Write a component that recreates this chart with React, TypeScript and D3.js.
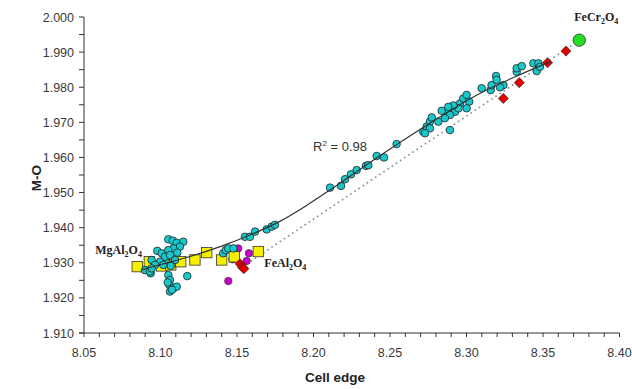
import React from "react";
import * as d3 from "d3";

// ---- data ----
const xTicks = [8.05, 8.1, 8.15, 8.2, 8.25, 8.3, 8.35, 8.4];
const yTicks = [1.91, 1.92, 1.93, 1.94, 1.95, 1.96, 1.97, 1.98, 1.99, 2.0];

const cyanPoints: [number, number][] = [
  [8.1051, 1.9367], [8.108, 1.9363], [8.1106, 1.9357], [8.1149, 1.936], [8.1127, 1.9346],
  [8.0979, 1.9334], [8.1008, 1.9327], [8.1084, 1.9341], [8.1051, 1.9336], [8.111, 1.9329],
  [8.1029, 1.9317], [8.1062, 1.9322], [8.0997, 1.9303], [8.1095, 1.9308], [8.1044, 1.9298],
  [8.0942, 1.9308], [8.0899, 1.9279], [8.0936, 1.927], [8.1067, 1.9291], [8.1051, 1.9265],
  [8.1062, 1.9251], [8.1058, 1.9237], [8.1084, 1.9227], [8.1106, 1.9232], [8.1062, 1.9218],
  [8.1175, 1.9262], [8.0964, 1.9294], [8.1018, 1.9294], [8.0931, 1.9275], [8.0942, 1.9284],
  [8.1047, 1.9244], [8.1075, 1.9223],
  [8.141, 1.9327], [8.1426, 1.9336], [8.1443, 1.9341], [8.1476, 1.9341], [8.1552, 1.9374],
  [8.1585, 1.9374], [8.1618, 1.9389], [8.1694, 1.9395], [8.1727, 1.9403], [8.1748, 1.9408],
  [8.2108, 1.9514], [8.218, 1.9519], [8.2206, 1.9538], [8.2245, 1.9552], [8.2282, 1.9564],
  [8.2343, 1.9576], [8.2358, 1.9578], [8.2413, 1.9604], [8.2461, 1.96], [8.2543, 1.9638],
  [8.2718, 1.9673], [8.274, 1.9688], [8.2761, 1.9702], [8.2773, 1.9714], [8.2816, 1.9702],
  [8.2761, 1.9683], [8.2729, 1.9669], [8.2892, 1.9678], [8.287, 1.9726], [8.2903, 1.974],
  [8.2925, 1.973], [8.2958, 1.9754], [8.2979, 1.9768], [8.3001, 1.9778], [8.3018, 1.9759],
  [8.3001, 1.974], [8.2947, 1.974], [8.2892, 1.9721], [8.2838, 1.9733], [8.2914, 1.9748],
  [8.2881, 1.9744], [8.2859, 1.9712],
  [8.3099, 1.9797], [8.3158, 1.9792], [8.3164, 1.9806], [8.3193, 1.9832], [8.3197, 1.9821],
  [8.3241, 1.9806], [8.3219, 1.98], [8.3328, 1.9844], [8.3328, 1.9854], [8.3361, 1.986],
  [8.3437, 1.9868], [8.347, 1.9868], [8.3459, 1.9846], [8.348, 1.9858],
];

const yellowSquares: [number, number][] = [
  [8.0848, 1.9289], [8.0927, 1.9303], [8.1008, 1.9291], [8.1067, 1.9294], [8.1132, 1.9303],
  [8.1225, 1.9308], [8.1302, 1.9329], [8.14, 1.9308], [8.1482, 1.9317], [8.1639, 1.9332],
];

const magentaPoints: [number, number][] = [
  [8.1443, 1.9248], [8.1508, 1.9341], [8.1563, 1.9305], [8.1578, 1.9327], [8.147, 1.931],
];

const redDiamonds: [number, number][] = [
  [8.152, 1.9297], [8.1535, 1.9288], [8.1545, 1.9283],
  [8.3241, 1.9768], [8.3345, 1.9813], [8.353, 1.987], [8.365, 1.9903],
];

const feCr2O4: [number, number] = [8.3737, 1.9934];
const feAl2O4: [number, number] = [8.1535, 1.9288];
const mgAl2O4: [number, number] = [8.0848, 1.9289];

const trendPoints: [number, number][] = [
  [8.088, 1.928], [8.1, 1.9295], [8.113, 1.931], [8.139, 1.9346], [8.16, 1.9382],
  [8.178, 1.9418], [8.195, 1.9462], [8.21, 1.9505], [8.241, 1.9598], [8.274, 1.9692],
  [8.309, 1.9783], [8.335, 1.9836], [8.355, 1.9873],
];
const rSquared = "0.98";

const W = 632;
const H = 389;

export default function App() {
  const x = d3.scaleLinear().domain([8.05, 8.4]).range([84, 619.5]);
  const y = d3.scaleLinear().domain([1.91, 2.0]).range([333, 17]);
  const minorX = d3.range(0, 36).map((i) => 8.05 + i * 0.01);
  const minorY = d3.range(0, 19).map((i) => 1.91 + i * 0.005);
  const trend = d3
    .line<[number, number]>()
    .x((d) => x(d[0]))
    .y((d) => y(d[1]))
    .curve(d3.curveMonotoneX)(trendPoints) as string;
  const dotted = d3
    .line<[number, number]>()
    .x((d) => x(d[0]))
    .y((d) => y(d[1]))([feAl2O4, feCr2O4]) as string;
  const sans = "'Liberation Sans', Arial, sans-serif";
  const serif = "'Liberation Serif', 'Times New Roman', serif";
  const axisColor = "#333";

  return (
    <svg
      width={W}
      height={H}
      style={{ position: "absolute", left: 0, top: 0, background: "#fff" }}
    >
      <rect width={W} height={H} fill="#fff" />
      {/* axes */}
      <line x1={x(8.05)} x2={x(8.05)} y1={y(1.91)} y2={y(2.0)} stroke={axisColor} strokeWidth={1} />
      <line x1={x(8.05) - 5} x2={x(8.4)} y1={y(1.91)} y2={y(1.91)} stroke={axisColor} strokeWidth={1} />
      {minorX.map((v, i) => (
        <line key={"mx" + i} x1={x(v)} x2={x(v)} y1={y(1.91)} y2={y(1.91) + 4} stroke={axisColor} strokeWidth={1} />
      ))}
      {minorY.map((v, i) => (
        <line key={"my" + i} x1={x(8.05) - 5} x2={x(8.05)} y1={y(v)} y2={y(v)} stroke={axisColor} strokeWidth={1} />
      ))}
      {xTicks.map((v) => (
        <text key={"xt" + v} x={x(v)} y={357} textAnchor="middle" fontFamily={sans} fontSize={12.5} fill="#3a3a3a">
          {v.toFixed(2)}
        </text>
      ))}
      {yTicks.map((v) => (
        <text key={"yt" + v} x={74} y={y(v) + 4.5} textAnchor="end" fontFamily={sans} fontSize={12.5} fill="#3a3a3a">
          {v.toFixed(3)}
        </text>
      ))}
      <text x={335} y={382} textAnchor="middle" fontFamily={sans} fontSize={13.5} fontWeight="bold" fill="#222">
        Cell edge
      </text>
      <text
        transform={`translate(41,178) rotate(-90)`}
        textAnchor="middle"
        fontFamily={sans}
        fontSize={13.5}
        fontWeight="bold"
        fill="#222"
      >
        M-O
      </text>

      {/* mixing line */}
      <path d={dotted} fill="none" stroke="#888" strokeWidth={1.6} strokeDasharray="1.6,3.4" />

      {/* markers */}
      {magentaPoints.map((d, i) => (
        <circle key={"m" + i} cx={x(d[0])} cy={y(d[1])} r={3.7} fill="#cc00cc" stroke="#333" strokeWidth={0.7} />
      ))}
      {yellowSquares.map((d, i) => (
        <rect key={"s" + i} x={x(d[0]) - 5.2} y={y(d[1]) - 5.2} width={10.4} height={10.4} fill="#f5f000" stroke="#333" strokeWidth={0.8} />
      ))}
      {cyanPoints.map((d, i) => (
        <circle key={"c" + i} cx={x(d[0])} cy={y(d[1])} r={3.8} fill="#17c9cc" stroke="#222" strokeWidth={0.8} />
      ))}
      {redDiamonds.map((d, i) => (
        <rect
          key={"r" + i}
          x={-3.6}
          y={-3.6}
          width={7.2}
          height={7.2}
          transform={`translate(${x(d[0])},${y(d[1])}) rotate(45)`}
          fill="#e00000"
          stroke="#333"
          strokeWidth={0.6}
        />
      ))}
      <circle cx={x(feCr2O4[0])} cy={y(feCr2O4[1])} r={6.2} fill="#22dd22" stroke="#333" strokeWidth={0.8} />

      {/* trend line */}
      <path d={trend} fill="none" stroke="#333" strokeWidth={1.2} />

      {/* annotations */}
      <text x={313} y={151} fontFamily={sans} fontSize={13} fill="#333">
        R<tspan fontSize={8} dy={-5}>2</tspan>
        <tspan dy={5}> = {rSquared}</tspan>
      </text>
      <text x={x(feCr2O4[0]) - 5} y={y(feCr2O4[1]) - 19} fontFamily={serif} fontSize={12} fontWeight="bold" fill="#222">
        FeCr<tspan fontSize={8} dy={3}>2</tspan>
        <tspan dy={-3}>O</tspan>
        <tspan fontSize={8} dy={3}>4</tspan>
      </text>
      <text x={x(mgAl2O4[0]) - 42} y={y(mgAl2O4[1]) - 13} fontFamily={serif} fontSize={12} fontWeight="bold" fill="#222">
        MgAl<tspan fontSize={8} dy={3}>2</tspan>
        <tspan dy={-3}>O</tspan>
        <tspan fontSize={8} dy={3}>4</tspan>
      </text>
      <text x={x(feAl2O4[0]) + 22} y={y(feAl2O4[1]) + 0} fontFamily={serif} fontSize={12} fontWeight="bold" fill="#222">
        FeAl<tspan fontSize={8} dy={3}>2</tspan>
        <tspan dy={-3}>O</tspan>
        <tspan fontSize={8} dy={3}>4</tspan>
      </text>
    </svg>
  );
}
